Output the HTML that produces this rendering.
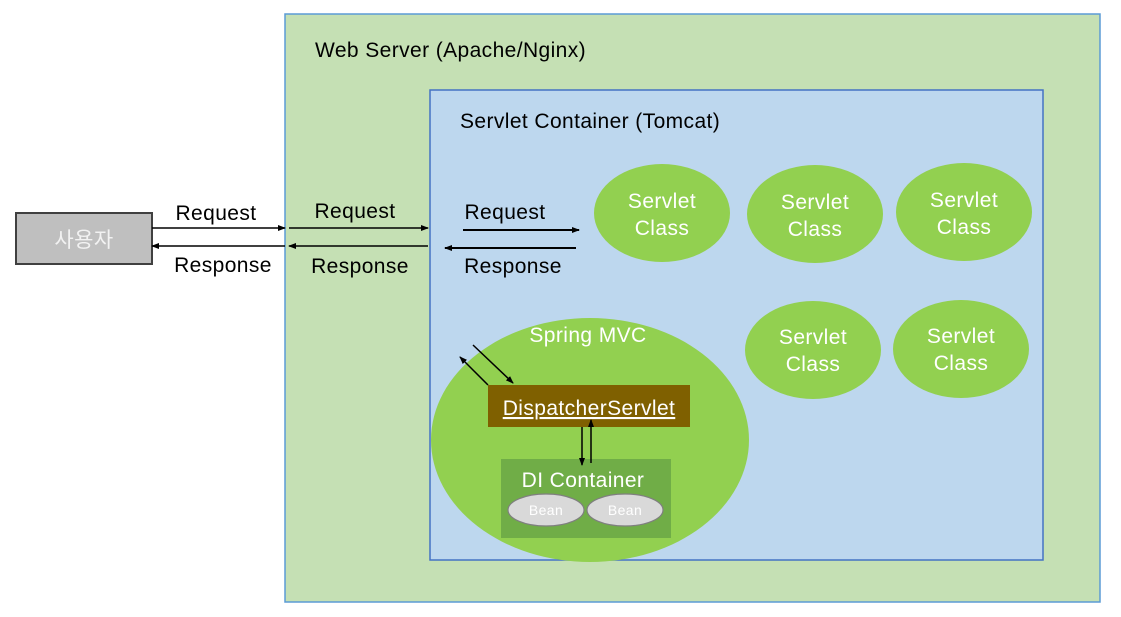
<!DOCTYPE html>
<html><head><meta charset="utf-8"><style>
html,body{margin:0;padding:0;background:#fff;width:1121px;height:617px;overflow:hidden}
svg{display:block}
text{font-family:"Liberation Sans","Noto Sans CJK KR",sans-serif;letter-spacing:0.4px}
</style></head><body>
<svg width="1121" height="617" viewBox="0 0 1121 617" xmlns="http://www.w3.org/2000/svg">
<defs>
<marker id="a" markerWidth="8" markerHeight="8" refX="7" refY="4" orient="auto" markerUnits="userSpaceOnUse">
<path d="M0,1 L8,4 L0,7 Z" fill="#000"/></marker>
</defs>
<rect x="285" y="14" width="815" height="588" fill="#c5e0b4" stroke="#5b9bd5" stroke-width="1.5"/>
<text x="315" y="57" font-size="21" fill="#000">Web Server (Apache/Nginx)</text>
<rect x="430" y="90" width="613" height="470" fill="#bdd7ee" stroke="#4472c4" stroke-width="1.5"/>
<text x="460" y="128" font-size="21" fill="#000">Servlet Container (Tomcat)</text>

<rect x="16" y="213" width="136" height="51" fill="#bfbfbf" stroke="#404040" stroke-width="2"/>
<text x="84" y="247" font-size="21" fill="#f2f2f2" text-anchor="middle">사용자</text>

<g stroke="#000" stroke-width="1.6" fill="none">
<line x1="152" y1="228" x2="285" y2="228" marker-end="url(#a)"/>
<line x1="285" y1="246" x2="152" y2="246" marker-end="url(#a)"/>
<line x1="289" y1="228" x2="428" y2="228" marker-end="url(#a)"/>
<line x1="428" y1="246" x2="289" y2="246" marker-end="url(#a)"/>
<line x1="463" y1="230" x2="579" y2="230" stroke-width="2" marker-end="url(#a)"/>
<line x1="576" y1="248" x2="445" y2="248" stroke-width="2" marker-end="url(#a)"/>
</g>
<g font-size="21" fill="#000" text-anchor="middle">
<text x="216" y="220">Request</text>
<text x="223" y="272">Response</text>
<text x="355" y="218">Request</text>
<text x="360" y="273">Response</text>
<text x="505" y="219">Request</text>
<text x="513" y="273">Response</text>
</g>

<g fill="#92d050">
<ellipse cx="662" cy="213" rx="68" ry="49"/>
<ellipse cx="815" cy="214" rx="68" ry="49"/>
<ellipse cx="964" cy="212" rx="68" ry="49"/>
<ellipse cx="813" cy="350" rx="68" ry="49"/>
<ellipse cx="961" cy="349" rx="68" ry="49"/>
</g>
<g font-size="21" fill="#fff" text-anchor="middle">
<text x="662" y="208">Servlet</text><text x="662" y="235">Class</text>
<text x="815" y="209">Servlet</text><text x="815" y="236">Class</text>
<text x="964" y="207">Servlet</text><text x="964" y="234">Class</text>
<text x="813" y="344">Servlet</text><text x="813" y="371">Class</text>
<text x="961" y="343">Servlet</text><text x="961" y="370">Class</text>
</g>

<ellipse cx="590" cy="440" rx="159" ry="122" fill="#92d050"/>
<text x="588" y="342" font-size="21" fill="#fff" text-anchor="middle">Spring MVC</text>
<rect x="488" y="385" width="202" height="42" fill="#7f6000"/>
<text x="589" y="415" font-size="21" fill="#fff" text-anchor="middle" text-decoration="underline">DispatcherServlet</text>
<rect x="501" y="459" width="170" height="79" fill="#70ad47"/>
<text x="583" y="487" font-size="21" fill="#fff" text-anchor="middle">DI Container</text>
<ellipse cx="546" cy="510" rx="38" ry="16" fill="#d9d9d9" stroke="#7f7f7f" stroke-width="1.2"/>
<ellipse cx="625" cy="510" rx="38" ry="16" fill="#d9d9d9" stroke="#7f7f7f" stroke-width="1.2"/>
<text x="546" y="515" font-size="14" fill="#fff" text-anchor="middle">Bean</text>
<text x="625" y="515" font-size="14" fill="#fff" text-anchor="middle">Bean</text>

<g stroke="#000" stroke-width="1.5" fill="none">
<line x1="582" y1="427" x2="582" y2="465" marker-end="url(#a)"/>
<line x1="591" y1="463" x2="591" y2="420" marker-end="url(#a)"/>
<line x1="473" y1="345" x2="513" y2="383" marker-end="url(#a)"/>
<line x1="488" y1="385" x2="460" y2="357" marker-end="url(#a)"/>
</g>
</svg>
</body></html>
